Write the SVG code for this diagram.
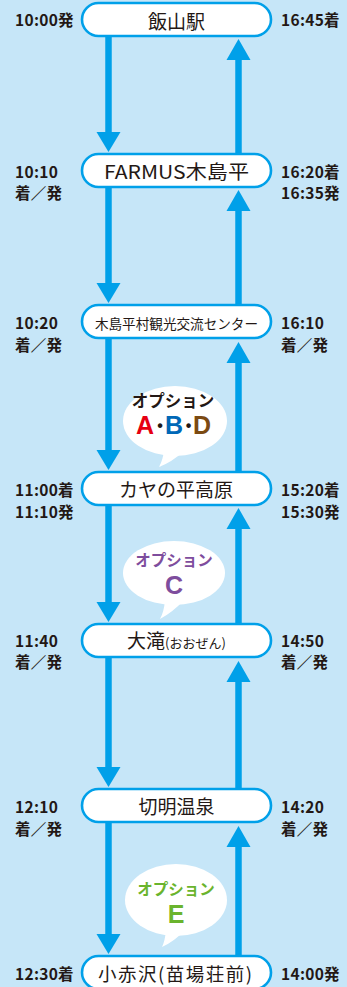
<svg xmlns="http://www.w3.org/2000/svg" width="347" height="987" viewBox="0 0 347 987">
<style>
.node rect{fill:#fff;stroke:#00a0e9;stroke-width:2.6}
.nt{font-family:"Noto Sans CJK JP","Noto Sans",sans-serif;font-size:19px;fill:#231815;text-anchor:middle}
.tm{font-family:"Noto Sans CJK JP","Noto Sans",sans-serif;font-size:15.5px;font-weight:bold;fill:#231815;letter-spacing:0.3px}
.ln{stroke:#00a0e9;stroke-width:6.5;fill:none}
.ah{fill:#00a0e9}
.bub{fill:#fff}
.op{font-family:"Noto Sans CJK JP","Noto Sans",sans-serif;font-weight:bold;text-anchor:middle}
.lt{font-family:"Liberation Sans",Arial,sans-serif;font-weight:bold;text-anchor:middle;font-size:25px}
</style>
<rect width="347" height="987" fill="#c6e6f8"/>
<g id="connectors">
  <line class="ln" x1="108.5" y1="36" x2="108.5" y2="134"/><polygon class="ah" points="96.5,132 120.5,132 108.5,152"/>
  <line class="ln" x1="108.5" y1="187" x2="108.5" y2="285"/><polygon class="ah" points="96.5,283 120.5,283 108.5,303"/>
  <line class="ln" x1="108.5" y1="338" x2="108.5" y2="452"/><polygon class="ah" points="96.5,450 120.5,450 108.5,470"/>
  <line class="ln" x1="108.5" y1="505" x2="108.5" y2="604"/><polygon class="ah" points="96.5,602 120.5,602 108.5,622"/>
  <line class="ln" x1="108.5" y1="657" x2="108.5" y2="769"/><polygon class="ah" points="96.5,767 120.5,767 108.5,787"/>
  <line class="ln" x1="108.5" y1="822" x2="108.5" y2="936"/><polygon class="ah" points="96.5,934 120.5,934 108.5,954"/>

  <line class="ln" x1="238.5" y1="154" x2="238.5" y2="57"/><polygon class="ah" points="226.5,60 250.5,60 238.5,39"/>
  <line class="ln" x1="238.5" y1="305" x2="238.5" y2="208"/><polygon class="ah" points="226.5,211 250.5,211 238.5,190"/>
  <line class="ln" x1="238.5" y1="472" x2="238.5" y2="360"/><polygon class="ah" points="226.5,363 250.5,363 238.5,342"/>
  <line class="ln" x1="238.5" y1="624" x2="238.5" y2="526"/><polygon class="ah" points="226.5,529 250.5,529 238.5,508"/>
  <line class="ln" x1="238.5" y1="789" x2="238.5" y2="679"/><polygon class="ah" points="226.5,682 250.5,682 238.5,661"/>
  <line class="ln" x1="238.5" y1="956" x2="238.5" y2="844"/><polygon class="ah" points="226.5,847 250.5,847 238.5,826"/>
</g>

<g id="node-iiyama" class="node">
  <rect x="82" y="3" width="189" height="33" rx="16.5"/>
  <text class="nt" x="176.5" y="29">飯山駅</text>
  <text class="tm" x="15" y="26">10:00発</text>
  <text class="tm" x="281" y="26">16:45着</text>
</g>
<g id="node-farmus" class="node">
  <rect x="82" y="154" width="189" height="33" rx="16.5"/>
  <text class="nt" x="104" y="179" style="text-anchor:start" textLength="145" lengthAdjust="spacingAndGlyphs">FARMUS木島平</text>
  <text class="tm" x="15" y="178">10:10</text>
  <text class="tm" x="15" y="199">着／発</text>
  <text class="tm" x="281" y="178">16:20着</text>
  <text class="tm" x="281" y="199">16:35発</text>
</g>
<g id="node-kankou" class="node">
  <rect x="82" y="305" width="189" height="33" rx="16.5"/>
  <text class="nt" x="176.5" y="329" style="font-size:13.6px">木島平村観光交流センター</text>
  <text class="tm" x="15" y="329">10:20</text>
  <text class="tm" x="15" y="351">着／発</text>
  <text class="tm" x="281" y="329">16:10</text>
  <text class="tm" x="281" y="351">着／発</text>
</g>
<g id="node-kaya" class="node">
  <rect x="82" y="472" width="189" height="33" rx="16.5"/>
  <text class="nt" x="176" y="497">カヤの平高原</text>
  <text class="tm" x="15" y="496">11:00着</text>
  <text class="tm" x="15" y="518">11:10発</text>
  <text class="tm" x="281" y="496">15:20着</text>
  <text class="tm" x="281" y="518">15:30発</text>
</g>
<g id="node-oozen" class="node">
  <rect x="82" y="624" width="189" height="33" rx="16.5"/>
  <text class="nt" x="176.5" y="648">大滝<tspan style="font-size:13px">(おおぜん)</tspan></text>
  <text class="tm" x="15" y="647">11:40</text>
  <text class="tm" x="15" y="668">着／発</text>
  <text class="tm" x="281" y="647">14:50</text>
  <text class="tm" x="281" y="668">着／発</text>
</g>
<g id="node-kiriake" class="node">
  <rect x="82" y="789" width="189" height="33" rx="16.5"/>
  <text class="nt" x="176.5" y="814">切明温泉</text>
  <text class="tm" x="15" y="813">12:10</text>
  <text class="tm" x="15" y="835">着／発</text>
  <text class="tm" x="281" y="813">14:20</text>
  <text class="tm" x="281" y="835">着／発</text>
</g>
<g id="node-koakazawa" class="node">
  <rect x="82" y="956" width="189" height="33" rx="16.5"/>
  <text class="nt" x="98" y="981" style="font-size:18.5px;text-anchor:start" textLength="154" lengthAdjust="spacing">小赤沢(苗場荘前)</text>
  <text class="tm" x="15" y="980">12:30着</text>
  <text class="tm" x="281" y="980">14:00発</text>
</g>

<g id="bubble-abd">
  <ellipse class="bub" cx="175" cy="421" rx="52" ry="35"/>
  <path class="bub" d="M164,450 Q163,460 159,467 Q172,462 184,451 Z"/>
  <text class="op" x="173" y="406.5" style="font-size:16.5px;fill:#231815">オプション</text>
  <text class="lt" x="145" y="434" style="fill:#e60012">A</text>
  <text class="lt" x="160" y="431" style="font-size:16px;fill:#231815">•</text>
  <text class="lt" x="174" y="434" style="fill:#0068b7">B</text>
  <text class="lt" x="188.5" y="431" style="font-size:16px;fill:#231815">•</text>
  <text class="lt" x="202" y="434" style="fill:#7b4a12">D</text>
</g>
<g id="bubble-c">
  <ellipse class="bub" cx="174" cy="573" rx="51" ry="32"/>
  <path class="bub" d="M165,600 Q164,612 160,619 Q173,612 184,600 Z"/>
  <text class="op" x="174" y="565.5" style="font-size:15.5px;fill:#7e4d9d">オプション</text>
  <text class="lt" x="174" y="594" style="fill:#7e4d9d">C</text>
</g>
<g id="bubble-e">
  <ellipse class="bub" cx="176" cy="900" rx="51" ry="36"/>
  <path class="bub" d="M166,930 Q165,941 162,947 Q175,941 186,929 Z"/>
  <text class="op" x="176" y="894.5" style="font-size:15.5px;fill:#6ab42d">オプション</text>
  <text class="lt" x="176" y="923" style="fill:#6ab42d">E</text>
</g>
</svg>
